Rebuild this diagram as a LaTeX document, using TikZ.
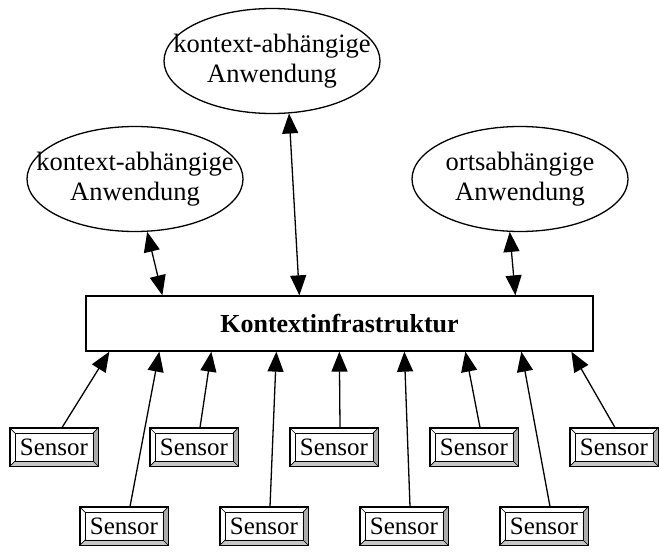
\documentclass[tikz,border=0pt]{standalone}
\usepackage{fontspec}
\setmainfont{Liberation Serif}
\usetikzlibrary{arrows.meta,shapes.geometric,calc}

\begin{document}
\begin{tikzpicture}[x=1pt,y=-1pt,
  app/.style={ellipse, draw, line width=1.3pt, minimum width=216pt, minimum height=105pt, inner sep=0pt,
    label={[align=center, font=\fontsize{26.5}{30}\selectfont]center:#1}},
  infra/.style={draw, line width=1.3pt, minimum width=507pt, minimum height=55pt, inner sep=0pt,
    font=\fontsize{26}{30}\selectfont\bfseries},
  sensor/.style={draw, line width=0.8pt, minimum width=88pt, minimum height=38pt, inner sep=0pt,
    font=\fontsize{25}{28}\selectfont},
  link/.style={line width=1.3pt, -{Triangle[length=20pt,width=16pt]}},
  dlink/.style={line width=1.3pt, {Triangle[length=20pt,width=16pt]}-{Triangle[length=20pt,width=16pt]}},
  bevel/.style={line width=0.7pt},
]
\useasboundingbox (0,0) rectangle (660,556);

% applications
\node[app={kontext-abhängige\\Anwendung}] (appT) at (272,61) {};
\node[app={kontext-abhängige\\Anwendung}] (appL) at (135,179) {};
\node[app={ortsabhängige\\Anwendung}] (appR) at (520,179) {};

% context infrastructure
\node[infra] (infra) at (339.5,323.5) {Kontextinfrastruktur};

% sensors
\node[sensor] (s1) at (54,447) {Sensor};
\node[sensor] (s2) at (194,447) {Sensor};
\node[sensor] (s3) at (334,447) {Sensor};
\node[sensor] (s4) at (474,447) {Sensor};
\node[sensor] (s5) at (614,447) {Sensor};
\node[sensor] (b1) at (124,526) {Sensor};
\node[sensor] (b2) at (264,526) {Sensor};
\node[sensor] (b3) at (404,526) {Sensor};
\node[sensor] (b4) at (544,526) {Sensor};

% bevelled frames of the sensor buttons
\foreach \n in {s1,s2,s3,s4,s5,b1,b2,b3,b4}{
  \coordinate (\n-inw) at ($(\n.north west)+(5.5pt,-5.5pt)$);
  \coordinate (\n-ine) at ($(\n.north east)+(-5.5pt,-5.5pt)$);
  \coordinate (\n-isw) at ($(\n.south west)+(5.5pt,5.5pt)$);
  \coordinate (\n-ise) at ($(\n.south east)+(-5.5pt,5.5pt)$);
  \fill[gray!45] (\n.south west) -- (\n-isw) -- (\n-ise) -- (\n.south east) -- cycle;
  \fill[gray!65] (\n.north east) -- (\n-ine) -- (\n-ise) -- (\n.south east) -- cycle;
  \draw[bevel] (\n-inw) rectangle (\n-ise);
  \draw[bevel] (\n.north west) -- (\n-inw) (\n.north east) -- (\n-ine)
               (\n.south west) -- (\n-isw) (\n.south east) -- (\n-ise);
  \draw[bevel] (\n.north west) rectangle (\n.south east);
}

% applications <-> infrastructure
\draw[dlink] (appL.-77) -- ([xshift=77pt]infra.north west);
\draw[dlink] (appT.-72) -- ([xshift=214pt]infra.north west);
\draw[dlink] (appR.-101) -- ([xshift=430pt]infra.north west);

% sensors -> infrastructure
\draw[link] ([xshift=8pt]s1.north) -- ([xshift=24pt]infra.south west);
\draw[link] ([xshift=6pt]s2.north) -- ([xshift=126pt]infra.south west);
\draw[link] ([xshift=6pt]s3.north) -- ([xshift=254pt]infra.south west);
\draw[link] ([xshift=6pt]s4.north) -- ([xshift=380pt]infra.south west);
\draw[link] ([xshift=1pt]s5.north) -- ([xshift=486pt]infra.south west);
\draw[link] ([xshift=6pt]b1.north) -- ([xshift=74pt]infra.south west);
\draw[link] ([xshift=6pt]b2.north) -- ([xshift=191pt]infra.south west);
\draw[link] ([xshift=6pt]b3.north) -- ([xshift=319pt]infra.south west);
\draw[link] ([xshift=6pt]b4.north) -- ([xshift=436pt]infra.south west);
\end{tikzpicture}
\end{document}
